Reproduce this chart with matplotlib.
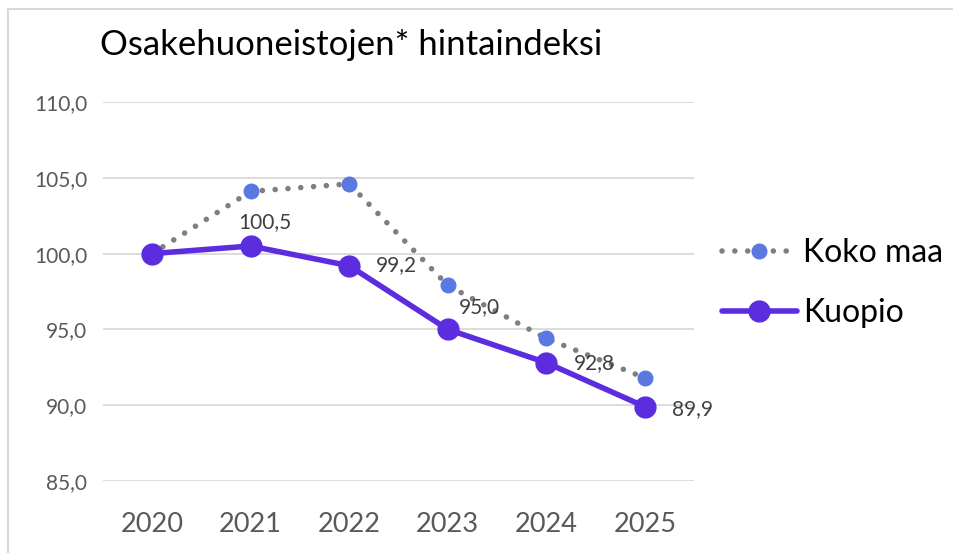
import matplotlib
matplotlib.use("Agg")
import matplotlib.pyplot as plt
from matplotlib.lines import Line2D

plt.rcParams['font.family'] = ['Lato', 'DejaVu Sans']

years = ["2020", "2021", "2022", "2023", "2024", "2025"]
koko_maa = [100.0, 104.1, 104.6, 97.9, 94.4, 91.8]
kuopio = [100.0, 100.5, 99.2, 95.0, 92.8, 89.9]
kuopio_labels = [None, "100,5", "99,2", "95,0", "92,8", "89,9"]
y_ticks = [85, 90, 95, 100, 105, 110]
title = "Osakehuoneistojen* hintaindeksi"

W, H = 954, 553
fig = plt.figure(figsize=(W / 100, H / 100), dpi=100)
fig.patch.set_facecolor("white")

# outer frame (only left and top visible)
fig.add_artist(Line2D([8.5 / W, 8.5 / W], [0, 1 - 8.5 / H], color="#d9d9d9", lw=1.5,
                      transform=fig.transFigure))
fig.add_artist(Line2D([8.5 / W, 1], [1 - 8.5 / H, 1 - 8.5 / H], color="#d9d9d9", lw=1.5,
                      transform=fig.transFigure))

left, right = 102.7 / W, 694.3 / W
bottom, top = 1 - 481 / H, 1 - 102 / H
ax = fig.add_axes([left, bottom, right - left, top - bottom])
x = list(range(len(years)))

ax.plot(x, koko_maa, color="#7f7f7f", lw=4.0, linestyle=(0, (0.01, 2.3)),
        dash_capstyle="round", marker="o", markersize=10.5,
        markerfacecolor="#5a78e0", markeredgecolor="#5a78e0", zorder=3, label="Koko maa")
ax.plot(x, kuopio, color="#5b2ddf", lw=4.0, solid_capstyle="round",
        marker="o", markersize=15, markerfacecolor="#5b2ddf",
        markeredgecolor="#5b2ddf", zorder=4, label="Kuopio")

# offsets in pixels (dx to left edge of text, dy up to text centre)
offsets = [None, (-12, 24), (27, 1), (11, 22), (27, 0), (27, -2)]
for xi, yi, lab, off in zip(x, kuopio, kuopio_labels, offsets):
    if lab is None:
        continue
    ax.annotate(lab, (xi, yi), xytext=(off[0] * 0.72, off[1] * 0.72),
                textcoords="offset points",
                ha="left", va="center", fontsize=15, color="#404040", zorder=5)

ax.set_xlim(-0.5, 5.5)
ax.set_ylim(85, 110)
ax.set_yticks(y_ticks)
ax.set_yticklabels([f"{v:.1f}".replace(".", ",") for v in y_ticks],
                   fontsize=15, color="#595959")
ax.set_xticks(x)
ax.set_xticklabels(years, fontsize=19.5, color="#595959")
ax.tick_params(axis="both", length=0)
ax.tick_params(axis="y", pad=11)
ax.tick_params(axis="x", pad=22)
ax.grid(axis="y", color="#d9d9d9", lw=1.3)
ax.set_axisbelow(True)
for s in ax.spines.values():
    s.set_visible(False)

fig.text(100 / W, 1 - 45 / H, title, fontsize=25, color="#000000",
         ha="left", va="center")

leg = fig.legend(handles=ax.get_lines(), loc="center left",
                 bbox_to_anchor=(709 / W, 1 - 283 / H), frameon=False,
                 fontsize=23, handlelength=2.35, handletextpad=0.19,
                 labelspacing=0.95, borderaxespad=0)

fig.savefig("out.png", dpi=100, facecolor="white")
